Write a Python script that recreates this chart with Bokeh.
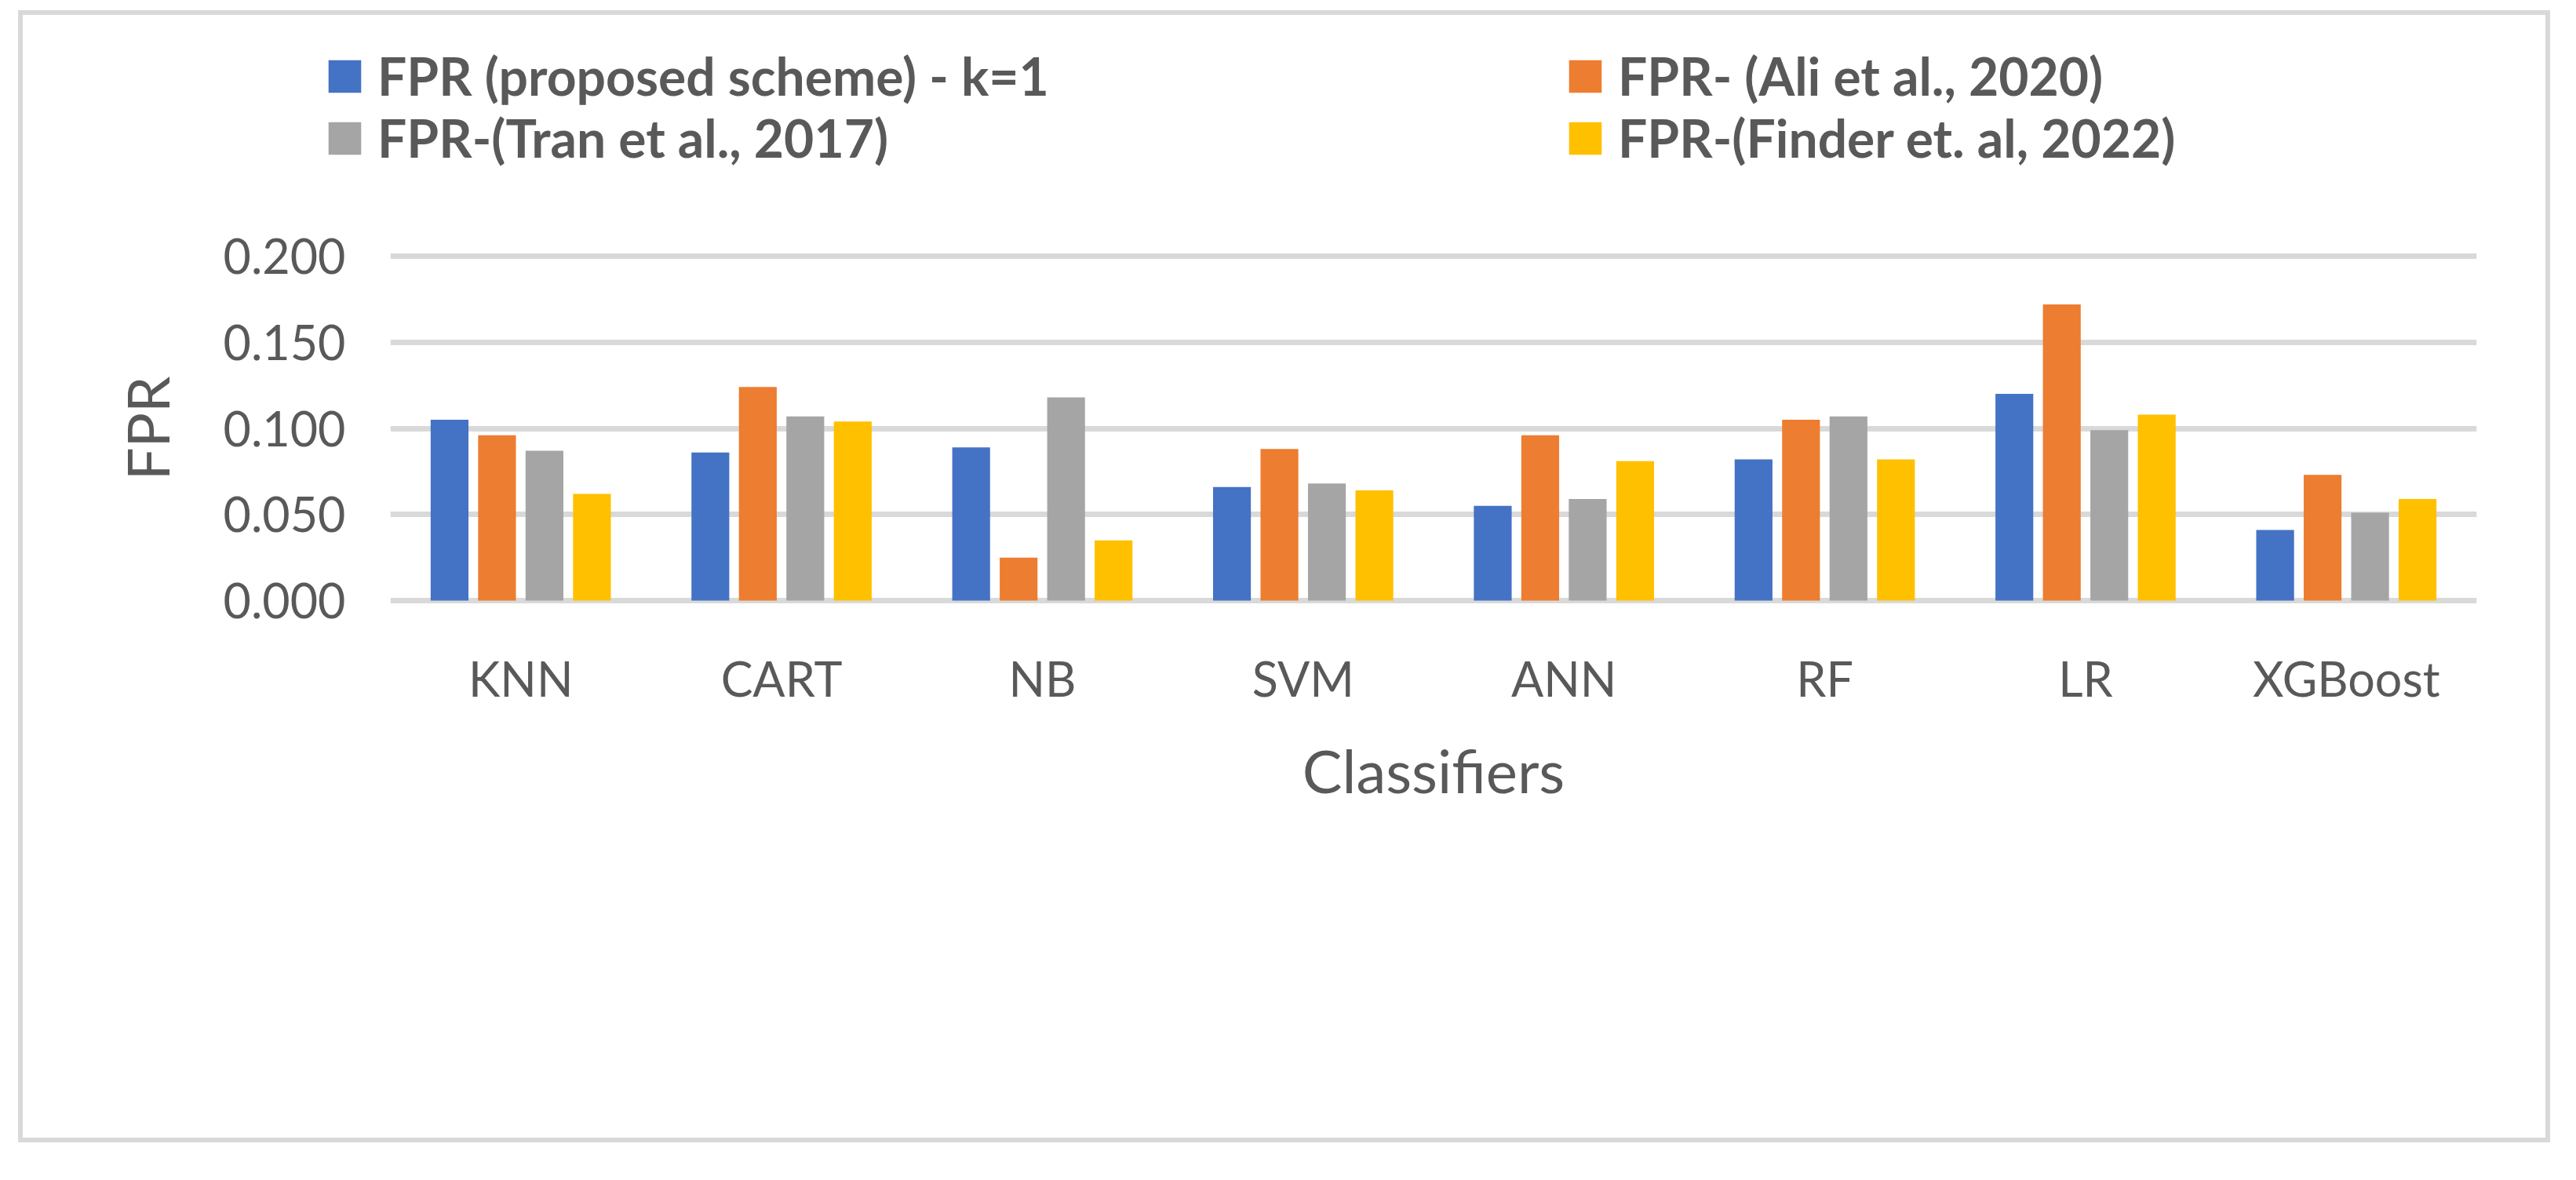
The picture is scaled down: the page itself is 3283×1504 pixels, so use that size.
from bokeh.plotting import figure
from bokeh.layouts import column
from bokeh.models import (ColumnDataSource, FactorRange, Range1d, FixedTicker,
                          PrintfTickFormatter, Legend, LegendItem)
from bokeh.transform import dodge
from bokeh.embed import file_html
from bokeh.resources import INLINE

classifiers = ["KNN", "CART", "NB", "SVM", "ANN", "RF", "LR", "XGBoost"]
fpr_proposed = [0.105, 0.086, 0.089, 0.066, 0.055, 0.082, 0.120, 0.041]
fpr_ali = [0.096, 0.124, 0.025, 0.088, 0.096, 0.105, 0.172, 0.073]
fpr_tran = [0.087, 0.107, 0.118, 0.068, 0.059, 0.107, 0.099, 0.051]
fpr_finder = [0.062, 0.104, 0.035, 0.064, 0.081, 0.082, 0.108, 0.059]
y_ticks = [0.0, 0.05, 0.10, 0.15, 0.20]

labels = ["FPR (proposed scheme) - k=1", "FPR- (Ali et al., 2020)",
          "FPR-(Tran et al., 2017)", "FPR-(Finder et. al, 2022)"]
colors = ["#4472C4", "#ED7D31", "#A5A5A5", "#FFC000"]
series = ["a", "b", "c", "d"]

src = ColumnDataSource(dict(cats=classifiers, a=fpr_proposed, b=fpr_ali,
                            c=fpr_tran, d=fpr_finder))

FONT = "Lato"
TXT = "#595959"
W = 3227
H_LEG = 250

# ---------------- main chart ----------------
pad = 4 / 2195.0
p = figure(x_range=FactorRange(factors=classifiers, range_padding=0),
           y_range=Range1d(-pad, 0.2 + pad),
           frame_width=2659, frame_height=447,
           min_border_left=474, min_border_right=94,
           min_border_top=59, min_border_bottom=687,
           output_backend="svg", toolbar_location=None)
p.outline_line_color = None
p.background_fill_color = None
p.border_fill_color = None

step = 0.182
bw = 0.145
for i, (col, colr) in enumerate(zip(series, colors)):
    off = (i - 1.5) * step
    p.vbar(x=dodge("cats", off, range=p.x_range), top=col, bottom=0,
           width=bw, source=src, fill_color=colr, line_color=None)

p.xgrid.grid_line_color = None
p.ygrid.grid_line_color = "#d9d9d9"
p.ygrid.grid_line_width = 7
p.ygrid.ticker = FixedTicker(ticks=y_ticks)

p.yaxis.ticker = FixedTicker(ticks=y_ticks)
p.yaxis.formatter = PrintfTickFormatter(format="%.3f")
for ax in (p.xaxis[0], p.yaxis[0]):
    ax.axis_line_color = None
    ax.major_tick_line_color = None
    ax.minor_tick_line_color = None
    ax.major_label_text_font = FONT
    ax.major_label_text_font_size = "61px"
    ax.major_label_text_color = TXT
    ax.axis_label_text_font = FONT
    ax.axis_label_text_font_size = "74px"
    ax.axis_label_text_color = TXT
    ax.axis_label_text_font_style = "normal"

p.yaxis.axis_label = "FPR"
p.yaxis.major_label_standoff = 51
p.yaxis.axis_label_standoff = 50
p.xaxis.axis_label = "Classifiers"
p.xaxis.axis_label_text_font_size = "76px"
p.xaxis.major_label_standoff = 52
p.xaxis.axis_label_standoff = 32

# ---------------- legend strip ----------------
lf = figure(x_range=FactorRange(factors=classifiers, range_padding=0),
            y_range=Range1d(10, 11),
            frame_width=W, frame_height=H_LEG,
            min_border=0, x_axis_location=None, y_axis_location=None,
            output_backend="svg", toolbar_location=None)
lf.outline_line_color = None
lf.xgrid.visible = False
lf.ygrid.visible = False
lf.background_fill_color = None
lf.border_fill_color = None
lrends = []
for col, colr in zip(series, colors):
    lrends.append(lf.vbar(x="cats", top=col, bottom=0, width=0.1, source=src,
                          fill_color=colr, line_color=None))

legend = Legend(items=[LegendItem(label=labels[i], renderers=[lrends[i]]) for i in range(4)],
                location=(390, 48), orientation="horizontal", nrows=2,
                border_line_color=None, background_fill_alpha=0,
                padding=0, margin=0, glyph_width=52, glyph_height=52,
                label_standoff=16, spacing=0, label_width=1513,
                label_text_font=FONT, label_text_font_size="66px",
                label_text_font_style="bold", label_text_color=TXT)
lf.add_layout(legend, "center")

layout = column(lf, p, spacing=0,
                styles={"margin-left": "23px", "margin-top": "13px",
                        "outline": "6px solid #d9d9d9", "outline-offset": "-6px"})

open("out.html", "w").write(file_html(layout, INLINE))
